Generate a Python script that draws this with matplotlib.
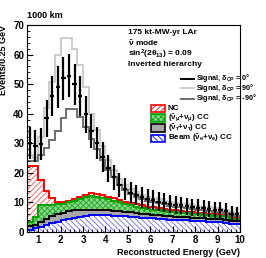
import numpy as np
import matplotlib
matplotlib.use("Agg")
import matplotlib.pyplot as plt
from matplotlib.lines import Line2D
from matplotlib.patches import Rectangle

plt.rcParams['font.family'] = ['Liberation Sans', 'DejaVu Sans']
plt.rcParams['font.weight'] = 'bold'
plt.rcParams['mathtext.fontset'] = 'custom'
plt.rcParams['mathtext.rm'] = 'Liberation Sans:bold'
plt.rcParams['mathtext.it'] = 'Liberation Sans:bold'
plt.rcParams['mathtext.bf'] = 'Liberation Sans:bold'
plt.rcParams['hatch.linewidth'] = 0.6

# 0.25 GeV bins from 0.5 to 10 GeV
edges = np.arange(0.5, 10.01, 0.25)

# background components (events per bin), stacked bottom -> top
beam_nue = [0.8, 1.2, 1.8, 2.4, 3.0, 3.5, 4.0, 4.5, 4.9, 5.2, 5.4, 5.6, 5.7, 5.7, 5.6, 5.5,
            5.4, 5.3, 5.2, 5.0, 4.9, 4.7, 4.6, 4.5, 4.3, 4.2, 4.1, 4.0, 3.9, 3.8, 3.7, 3.6,
            3.5, 3.4, 3.3, 3.2, 2.8, 2.7]
tau_cc = [1.2, 1.3, 1.7, 2.1, 2.3, 2.5, 2.5, 2.5, 2.4, 2.3, 2.2, 2.0, 1.8, 1.7, 1.7, 1.6,
          1.6, 1.5, 1.4, 1.4, 1.3, 1.3, 1.3, 1.2, 1.2, 1.2, 1.1, 1.1, 1.1, 1.0, 1.0, 1.0,
          1.0, 1.0, 1.0, 1.0, 0.9, 0.9]
numu_cc = [1.5, 2.5, 5.5, 4.5, 3.9, 3.3, 3.0, 3.0, 3.2, 3.7, 4.2, 4.6, 4.5, 4.2, 3.9, 3.5,
           3.0, 2.7, 2.4, 2.2, 2.0, 1.8, 1.6, 1.6, 1.6, 1.5, 1.5, 1.4, 1.3, 1.3, 1.3, 1.2,
           1.2, 1.1, 1.1, 1.1, 0.8, 0.8]
nc = [18.8, 17.3, 8.5, 5.0, 2.3, 1.0, 0.7, 0.5, 0.7, 0.6, 0.8, 1.0, 1.0, 0.9, 0.8, 0.8,
      0.8, 0.8, 0.8, 0.8, 0.8, 0.8, 0.8, 0.7, 0.7, 0.7, 0.6, 0.6, 0.6, 0.6, 0.5, 0.5,
      0.5, 0.5, 0.5, 0.4, 0.5, 0.5]

# signal + background totals
total_dcp0 = [30, 29, 29.7, 38.4, 46, 49.1, 52, 52.8, 49.9, 46, 39.8, 34.1, 30, 25.5, 21.5, 18.5,
              16, 14.5, 13.3, 12.5, 11.7, 11.1, 10.8, 10.3, 9.9, 9.5, 9.2, 9.0, 8.7, 8.4, 8.2, 8.0,
              7.8, 7.5, 7.3, 7.1, 6.2, 6.0]
total_dcp90 = [26, 25, 32, 42, 50.6, 60, 65.7, 65.7, 62, 56.4, 49, 40, 34.5, 29, 24.5, 21,
               18, 16, 14.5, 13.5, 12.6, 12.0, 11.6, 11.1, 10.6, 10.2, 9.9, 9.6, 9.3, 9.0, 8.8, 8.5,
               8.3, 8.0, 7.8, 7.6, 6.6, 6.4]
total_dcpm90 = [24, 24, 26, 28.5, 31, 34, 38.5, 41.6, 41.6, 39, 35.5, 31.5, 28, 24.5, 21, 18.5,
                16, 14.2, 12.8, 12.0, 11.2, 10.6, 10.2, 9.7, 9.3, 8.9, 8.6, 8.4, 8.1, 7.8, 7.6, 7.4,
                7.2, 6.9, 6.7, 6.5, 5.7, 5.5]

W, H = 266, 258
fig = plt.figure(figsize=(W / 100, H / 100), dpi=100)
ax = fig.add_axes([27/W, 26/H, 213/W, 207/H])

c1 = np.array(beam_nue)
c2 = c1 + np.array(tau_cc)
c3 = c2 + np.array(numu_cc)
c4 = c3 + np.array(nc)

# fills
ax.stairs(c4, edges, baseline=c3, fill=True, facecolor='white', edgecolor='#ff5050',
          hatch='//////', linewidth=0)
ax.stairs(c3, edges, baseline=c2, fill=True, facecolor='#8ad88a', edgecolor='#1fa51f',
          hatch='xxxxxx', linewidth=0)
ax.stairs(c2, edges, baseline=c1, fill=True, facecolor='#a8a8a8', linewidth=0)
ax.stairs(c1, edges, baseline=0, fill=True, facecolor='white', edgecolor='#6a6aff',
          hatch='\\\\\\\\\\\\', linewidth=0)
# outlines
ax.stairs(c4, edges, baseline=None, color='#ff0000', lw=1.4)
ax.stairs(c3, edges, baseline=None, color='#00a000', lw=1.4)
ax.stairs(c2, edges, baseline=None, color='black', lw=1.4)
ax.stairs(c1, edges, baseline=None, color='#0000ff', lw=1.4)

# signal hypotheses
ax.stairs(total_dcp90, edges, baseline=None, color='#cccccc', lw=1.4)
ax.stairs(total_dcpm90, edges, baseline=None, color='#6e6e6e', lw=1.4)
centers = 0.5 * (edges[:-1] + edges[1:])
ax.errorbar(centers, total_dcp0, yerr=np.sqrt(total_dcp0), xerr=0.1, fmt='none',
            ecolor='black', elinewidth=1.6, capsize=0, zorder=5)

ax.set_xlim(0.5, 10)
ax.set_ylim(0, 70)
ax.set_xticks(range(1, 11))
ax.set_xticks(np.arange(0.6, 10.0, 0.2), minor=True)
ax.set_yticks(range(0, 71, 10))
ax.set_yticks(range(0, 71, 2), minor=True)
ax.tick_params(axis='both', which='both', direction='in', labelsize=7, pad=2)
ax.tick_params(axis='both', which='major', length=4, width=0.8)
ax.tick_params(axis='both', which='minor', length=2, width=0.6)
for s in ax.spines.values():
    s.set_linewidth(0.8)

ax.set_xlabel('Reconstructed Energy (GeV)', fontsize=6.5, fontweight='bold', loc='right', labelpad=2)
ax.set_ylabel('Events/0.25 GeV', fontsize=6.5, fontweight='bold', loc='top', labelpad=4)
fig.text(27/W, 1 - 16/H, '1000 km', fontsize=6.5, fontweight='bold', va='center', ha='left')

info = ['175 kt-MW-yr LAr', r'$\bar{\nu}$ mode', r'sin$^2$(2$\theta_{13}$) = 0.09', 'Inverted hierarchy']
info_y = [33, 43, 54, 64]
for t, yy in zip(info, info_y):
    fig.text(128/W, 1 - yy/H, t, fontsize=6.0, fontweight='bold', va='center', ha='left')

# legend, drawn by hand to keep the tight ROOT-style row spacing
sig_colors = ['black', '#cccccc', '#6e6e6e']
sig_labels = [r'Signal, $\delta_{CP}$ = 0°', r'Signal, $\delta_{CP}$ = 90°', r'Signal, $\delta_{CP}$ = -90°']
for i, (col, lab) in enumerate(zip(sig_colors, sig_labels)):
    y = 1 - (78.5 + 10 * i) / H
    fig.add_artist(Line2D([181/W, 194/W], [y, y], color=col, lw=1.4))
    fig.text(196/W, y, lab, fontsize=5.2, fontweight='bold', va='center', ha='left')

bkg_styles = [('white', '#ff0000', '//////'), ('#8ad88a', '#00a000', 'xxxxxx'),
              ('#a8a8a8', 'black', None), ('white', '#0000ff', '\\\\\\\\\\\\')]
bkg_labels = ['NC', r'$(\bar{\nu}_\mu$+$\nu_\mu)$ CC', r'$(\bar{\nu}_\tau$+$\nu_\tau)$ CC',
              r'Beam $(\bar{\nu}_e$+$\nu_e)$ CC']
for i, ((fc, ec, hatch), lab) in enumerate(zip(bkg_styles, bkg_labels)):
    y = 1 - (108 + 10 * i) / H
    fig.add_artist(Rectangle((151/W, y - 3.5/H), 14/W, 7/H, facecolor=fc, edgecolor=ec,
                             hatch=hatch, lw=1.2))
    fig.text(168/W, y, lab, fontsize=5.8, fontweight='bold', va='center', ha='left')

fig.savefig('out.png', dpi=100)
